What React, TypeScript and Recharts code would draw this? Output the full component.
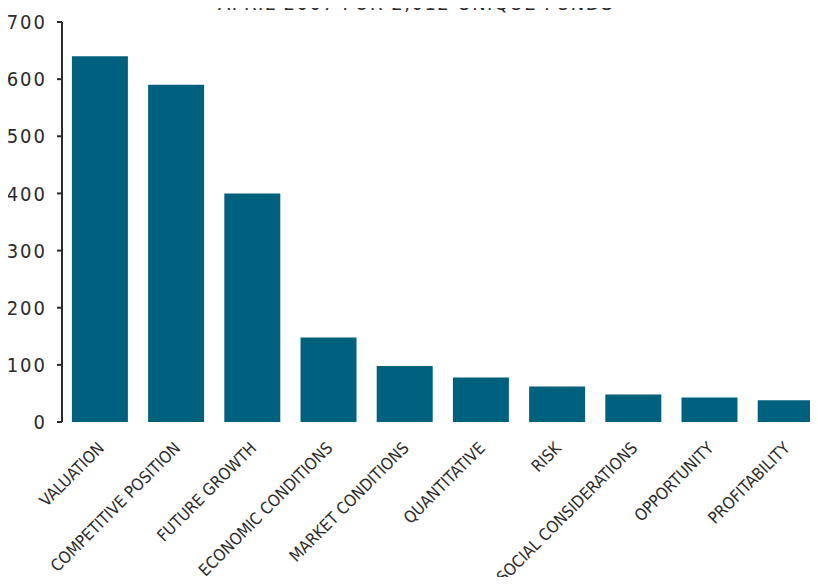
import React from "react";
import { BarChart, Bar, XAxis, YAxis } from "recharts";

const categories = [
  "VALUATION",
  "COMPETITIVE POSITION",
  "FUTURE GROWTH",
  "ECONOMIC CONDITIONS",
  "MARKET CONDITIONS",
  "QUANTITATIVE",
  "RISK",
  "SOCIAL CONSIDERATIONS",
  "OPPORTUNITY",
  "PROFITABILITY",
];
const counts = [640, 590, 400, 148, 98, 78, 62, 48, 43, 38];
const yTicks = [0, 100, 200, 300, 400, 500, 600, 700];
const boundaryTicks = [0, 1, 2, 3, 4, 5, 6, 7, 8, 9, 10];
const title = "APRIL 2007 FOR 2,012 UNIQUE FUNDS";

const FONT = '"Liberation Sans Narrow", "DejaVu Sans Condensed", "Roboto Condensed", sans-serif';
const BAR_COLOR = "#00617f";
const INK = "#2b2b2b";

const data = categories.map((name, i) => ({ name, value: counts[i] }));

// rotated category label, anchored at its end just under the band centre
const CategoryTick = ({ x, y, payload }: any) => (
  <text
    x={x}
    y={y}
    dx={-10}
    dy={17}
    transform={`rotate(-45, ${x}, ${y})`}
    textAnchor="end"
    fill={INK}
    fontSize={16.5}
    fontFamily={FONT}
  >
    {payload.value}
  </text>
);

export default function App() {
  return (
    <div
      style={{
        position: "relative",
        width: 818,
        height: 585,
        overflow: "hidden",
        margin: -8,
        background: "#fff",
      }}
    >
      <div
        style={{
          position: "absolute",
          top: -7,
          left: 0,
          width: 832,
          textAlign: "center",
          fontFamily: FONT,
          fontSize: 20,
          lineHeight: "20px",
          letterSpacing: 1.5,
          color: INK,
          whiteSpace: "nowrap",
        }}
      >
        {title}
      </div>
      <BarChart
        width={832}
        height={585}
        data={data}
        margin={{ top: 22, right: 8, bottom: 0, left: 0 }}
        barCategoryGap="13%"
      >
        <XAxis
          xAxisId="bounds"
          type="number"
          domain={[0, 10]}
          ticks={boundaryTicks}
          height={0}
          tickSize={6}
          tickFormatter={() => ""}
          axisLine={{ stroke: INK, strokeWidth: 2 }}
          tickLine={{ stroke: INK, strokeWidth: 2 }}
        />
        <XAxis
          xAxisId="cat"
          dataKey="name"
          height={163}
          interval={0}
          axisLine={false}
          tickLine={false}
          tick={<CategoryTick />}
        />
        <YAxis
          domain={[0, 700]}
          ticks={yTicks}
          width={62}
          tickSize={5}
          tickMargin={10}
          interval={0}
          axisLine={{ stroke: INK, strokeWidth: 2 }}
          tickLine={{ stroke: INK, strokeWidth: 2 }}
          tick={{ fill: INK, fontSize: 20, fontFamily: FONT, letterSpacing: 2 }}
        />
        <Bar
          xAxisId="cat"
          dataKey="value"
          fill={BAR_COLOR}
          isAnimationActive={false}
        />
      </BarChart>
    </div>
  );
}
